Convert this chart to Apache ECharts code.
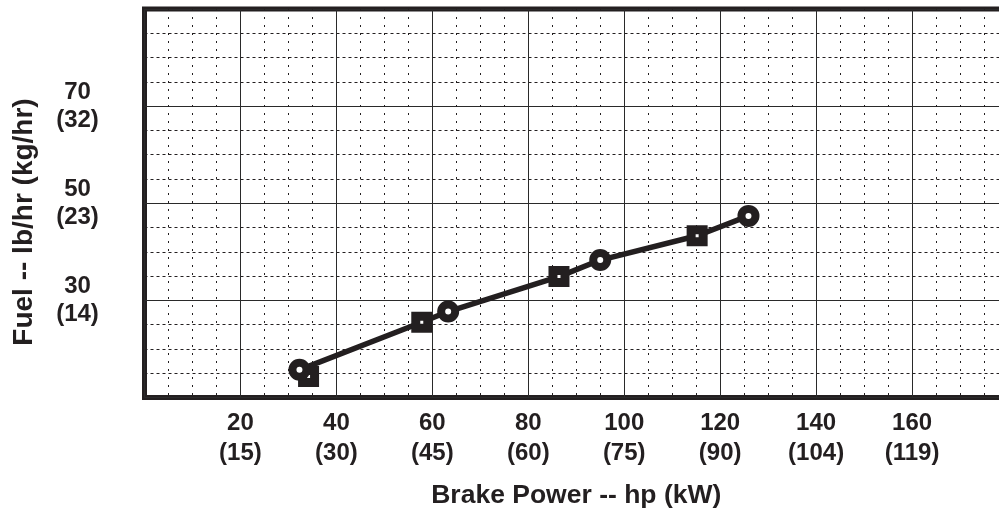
<!DOCTYPE html>
<html>
<head>
<meta charset="utf-8">
<script src="https://cdn.jsdelivr.net/npm/echarts@6/dist/echarts.min.js"></script>
<style>
  html, body { margin: 0; padding: 0; background: #ffffff; }
  #chart { width: 999px; height: 509px; }
</style>
</head>
<body>
<div id="chart"></div>
<script>
// ---- data ----
var xTickHp = [20, 40, 60, 80, 100, 120, 140, 160];
var xTickKw = ['15', '30', '45', '60', '75', '90', '104', '119'];
var yTickLb = [30, 50, 70];
var yTickKg = ['14', '23', '32'];

var circleHp   = [32.3, 63.3, 95.0, 125.9];
var circleFuel = [15.7, 27.7, 38.3, 47.4];
var squareHp   = [34.2, 57.8, 86.4, 115.2];
var squareFuel = [14.3, 25.5, 34.9, 43.3];

var lineHp   = [32.3, 57.8, 63.3, 86.4, 95.0, 115.2, 125.9];
var lineFuel = [15.7, 25.5, 27.7, 34.9, 38.3, 43.3, 47.4];

var INK = '#231f20';
var FONT = '"Liberation Sans", Arial, Helvetica, sans-serif';

function pairs(xs, ys) {
  return xs.map(function (x, i) { return [x, ys[i]]; });
}

var chart = echarts.init(document.getElementById('chart'));
chart.setOption({
  animation: false,
  backgroundColor: '#ffffff',
  grid: {
    left: 144.5, width: 863.5, top: 9, height: 388.5,
    outerBoundsMode: 'none', containLabel: false,
    show: true, borderColor: INK, borderWidth: 5, backgroundColor: 'transparent'
  },
  xAxis: {
    type: 'value', min: 0, max: 180, interval: 20,
    name: 'Brake Power -- hp (kW)',
    nameLocation: 'middle', nameGap: 85,
    nameTextStyle: { fontFamily: FONT, fontWeight: 'bold', fontSize: 26.5, color: INK },
    axisLine: { show: false },
    axisTick: { show: false },
    axisLabel: {
      showMinLabel: false, showMaxLabel: false,
      margin: 11, fontFamily: FONT, fontWeight: 'bold', fontSize: 24, lineHeight: 30, color: INK,
      formatter: function (v) {
        var i = xTickHp.indexOf(v);
        return i < 0 ? '' : xTickHp[i] + '\n(' + xTickKw[i] + ')';
      }
    },
    splitLine: { show: true, lineStyle: { color: '#2a2a2a', width: 1 } },
    minorTick: { show: false, splitNumber: 4 },
    minorSplitLine: { show: true, lineStyle: { color: INK, width: 1, type: [2, 6] } }
  },
  yAxis: {
    type: 'value', min: 10, max: 90, interval: 20,
    axisLine: { show: false },
    axisTick: { show: false },
    axisLabel: {
      showMinLabel: false, showMaxLabel: false,
      margin: 67, align: 'center', fontFamily: FONT, fontWeight: 'bold', fontSize: 24, lineHeight: 28,
      padding: [5, 0, 0, 0], color: INK,
      formatter: function (v) {
        var i = yTickLb.indexOf(v);
        return i < 0 ? '' : yTickLb[i] + '\n(' + yTickKg[i] + ')';
      }
    },
    splitLine: { show: true, lineStyle: { color: '#2a2a2a', width: 1 } },
    minorTick: { show: false, splitNumber: 4 },
    minorSplitLine: { show: true, lineStyle: { color: INK, width: 1, type: [3, 3] } }
  },
  graphic: [{
    type: 'text',
    x: 24, y: 222, rotation: Math.PI / 2,
    style: {
      text: 'Fuel -- lb/hr (kg/hr)', fill: INK,
      font: 'bold 28px ' + FONT, textAlign: 'center', textVerticalAlign: 'middle'
    }
  }],
  series: [
    {
      type: 'line', data: pairs(lineHp, lineFuel), symbol: 'none', z: 2,
      lineStyle: { color: INK, width: 5.5 }
    },
    {
      type: 'scatter', data: pairs(squareHp, squareFuel), symbol: 'rect', symbolSize: 12, z: 3,
      itemStyle: { color: '#ffffff', borderColor: INK, borderWidth: 9, opacity: 1 }
    },
    {
      type: 'scatter', data: pairs(circleHp, circleFuel), symbol: 'circle', symbolSize: 14, z: 4,
      itemStyle: { color: '#ffffff', borderColor: INK, borderWidth: 8, opacity: 1 }
    }
  ]
});
</script>
</body>
</html>
